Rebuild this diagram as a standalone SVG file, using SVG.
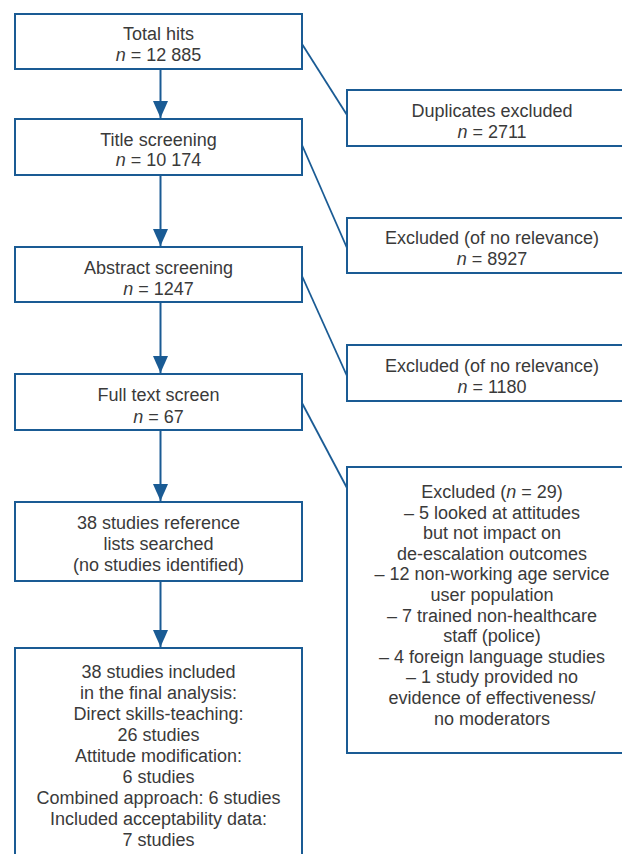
<svg xmlns="http://www.w3.org/2000/svg" width="622" height="854" viewBox="0 0 622 854">
<style>
.box{fill:#fff;stroke:#1a5b94;stroke-width:2}
.con{fill:none;stroke:#1a5b94;stroke-width:2}
.diag{fill:none;stroke:#1a5b94;stroke-width:1.8}
text{font-family:"Liberation Sans",Arial,sans-serif;font-size:18px;fill:#3a3a3a;text-anchor:middle}
.i{font-style:italic}
</style>
<defs>
<marker id="ah" viewBox="0 0 17 15" refX="17" refY="7.5" markerWidth="17" markerHeight="15" markerUnits="userSpaceOnUse" orient="auto">
<path d="M0,0 L17,7.5 L0,15 z" fill="#1a5b94"/>
</marker>
</defs>
<rect width="622" height="854" fill="#fff"/>
<g id="connectors">
<line class="con" x1="160.5" y1="69" x2="160.5" y2="118" marker-end="url(#ah)"/>
<line class="con" x1="160.5" y1="175" x2="160.5" y2="246" marker-end="url(#ah)"/>
<line class="con" x1="160.5" y1="302" x2="160.5" y2="373" marker-end="url(#ah)"/>
<line class="con" x1="160.5" y1="430" x2="160.5" y2="501" marker-end="url(#ah)"/>
<line class="con" x1="160.5" y1="581" x2="160.5" y2="647" marker-end="url(#ah)"/>
<line class="diag" x1="302" y1="44" x2="347" y2="115"/>
<line class="diag" x1="302" y1="145" x2="347" y2="248"/>
<line class="diag" x1="302" y1="276" x2="347" y2="376"/>
<line class="diag" x1="302" y1="403" x2="347" y2="488"/>
</g>
<g id="total-hits">
<rect class="box" x="15" y="14" width="287" height="55"/>
<text x="158.5" y="40">Total hits</text>
<text x="158.5" y="61"><tspan class="i">n</tspan> = 12 885</text>
</g>
<g id="title-screening">
<rect class="box" x="15" y="119" width="287" height="56"/>
<text x="158.5" y="146">Title screening</text>
<text x="158.5" y="166"><tspan class="i">n</tspan> = 10 174</text>
</g>
<g id="abstract-screening">
<rect class="box" x="15" y="247" width="287" height="55"/>
<text x="158.5" y="274">Abstract screening</text>
<text x="158.5" y="294.5"><tspan class="i">n</tspan> = 1247</text>
</g>
<g id="full-text-screen">
<rect class="box" x="15" y="374" width="287" height="56"/>
<text x="158.5" y="401">Full text screen</text>
<text x="158.5" y="422.5"><tspan class="i">n</tspan> = 67</text>
</g>
<g id="reference-lists">
<rect class="box" x="15" y="502" width="287" height="79"/>
<text x="158.5" y="529">38 studies reference</text>
<text x="158.5" y="550">lists searched</text>
<text x="158.5" y="571">(no studies identified)</text>
</g>
<g id="included">
<rect class="box" x="15" y="648" width="287" height="230"/>
<text x="158.5" y="678">38 studies included</text>
<text x="158.5" y="699">in the final analysis:</text>
<text x="158.5" y="720">Direct skills-teaching:</text>
<text x="158.5" y="741">26 studies</text>
<text x="158.5" y="762">Attitude modification:</text>
<text x="158.5" y="783">6 studies</text>
<text x="158.5" y="804">Combined approach: 6 studies</text>
<text x="158.5" y="825">Included acceptability data:</text>
<text x="158.5" y="846">7 studies</text>
</g>
<g id="duplicates">
<rect class="box" x="347" y="90" width="300" height="56"/>
<text x="492" y="116.5">Duplicates excluded</text>
<text x="492" y="137.5"><tspan class="i">n</tspan> = 2711</text>
</g>
<g id="excluded-title">
<rect class="box" x="347" y="218" width="300" height="55"/>
<text x="492" y="243.5">Excluded (of no relevance)</text>
<text x="492" y="264.5"><tspan class="i">n</tspan> = 8927</text>
</g>
<g id="excluded-abstract">
<rect class="box" x="347" y="345" width="300" height="56"/>
<text x="492" y="371.5">Excluded (of no relevance)</text>
<text x="492" y="392.5"><tspan class="i">n</tspan> = 1180</text>
</g>
<g id="excluded-fulltext">
<rect class="box" x="347" y="467" width="300" height="286"/>
<text x="492" y="498">Excluded (<tspan class="i">n</tspan> = 29)</text>
<text x="492" y="518.6">– 5 looked at attitudes</text>
<text x="492" y="539.2">but not impact on</text>
<text x="492" y="559.8">de-escalation outcomes</text>
<text x="492" y="580.4">– 12 non-working age service</text>
<text x="492" y="601">user population</text>
<text x="492" y="621.6">– 7 trained non-healthcare</text>
<text x="492" y="642.2">staff (police)</text>
<text x="492" y="662.8">– 4 foreign language studies</text>
<text x="492" y="683.4">– 1 study provided no</text>
<text x="492" y="704">evidence of effectiveness/</text>
<text x="492" y="724.6">no moderators</text>
</g>
</svg>
